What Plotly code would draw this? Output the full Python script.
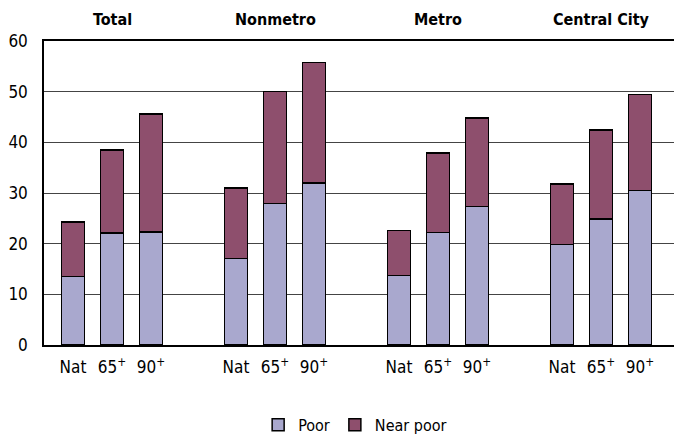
import plotly.graph_objects as go

groups = ["Total", "Nonmetro", "Metro", "Central City"]
ages = ["Nat", "65<sup>+</sup>", "90<sup>+</sup>"]
poor = [13.5, 22.1, 22.3, 17.1, 27.9, 32.0, 13.7, 22.2, 27.3, 19.8, 24.9, 30.5]
total = [24.3, 38.5, 45.6, 31.0, 50.0, 55.8, 22.6, 37.9, 44.8, 31.8, 42.4, 49.4]
near_poor = [round(t - p, 2) for t, p in zip(total, poor)]

GAP = 4.18
xs = [g * GAP + i for g in range(len(groups)) for i in range(len(ages))]
labels = [a for g in groups for a in ages]

FONT = "DejaVu Sans Condensed, Liberation Sans Narrow, Arial Narrow, sans-serif"

fig = go.Figure()
fig.add_trace(go.Bar(x=xs, y=poor, name="Poor", width=0.58,
                     marker=dict(color="#A9A8CE", line=dict(color="black", width=1.5))))
fig.add_trace(go.Bar(x=xs, y=near_poor, name="Near poor", width=0.58,
                     marker=dict(color="#8E4F6D", line=dict(color="black", width=1.5))))

for g, name in enumerate(groups):
    fig.add_annotation(x=g * GAP + 1, y=1, xref="x", yref="paper", yanchor="bottom",
                       yshift=10, text="<b>%s</b>" % name, showarrow=False,
                       font=dict(size=16, color="black", family=FONT))

# page body has an 8px default margin, so the figure is drawn 8px smaller
fig.update_layout(
    barmode="stack",
    width=674, height=430,
    margin=dict(l=36, r=3, t=33, b=93, autoexpand=False),
    paper_bgcolor="white", plot_bgcolor="white",
    font=dict(family=FONT, color="black", size=16),
    showlegend=True,
    legend=dict(orientation="h", x=0.49, xanchor="center", y=-0.263, yanchor="middle",
                font=dict(size=16), itemwidth=30, traceorder="normal"),
    xaxis=dict(range=[-0.744, 3 * GAP + 2 + 1.0], tickvals=xs, ticktext=labels,
               showgrid=False, showline=True, linecolor="black", linewidth=1.5,
               mirror=True, ticks="", zeroline=False, tickfont=dict(size=17),
               ticklabelstandoff=6),
    yaxis=dict(range=[0, 60], dtick=10, showgrid=True, gridcolor="#444", gridwidth=1.3,
               showline=True, linecolor="black", linewidth=1.5, mirror=True,
               ticks="", zeroline=False, tickfont=dict(size=17), ticklabelstandoff=11),
)

fig.write_html("out.html")
